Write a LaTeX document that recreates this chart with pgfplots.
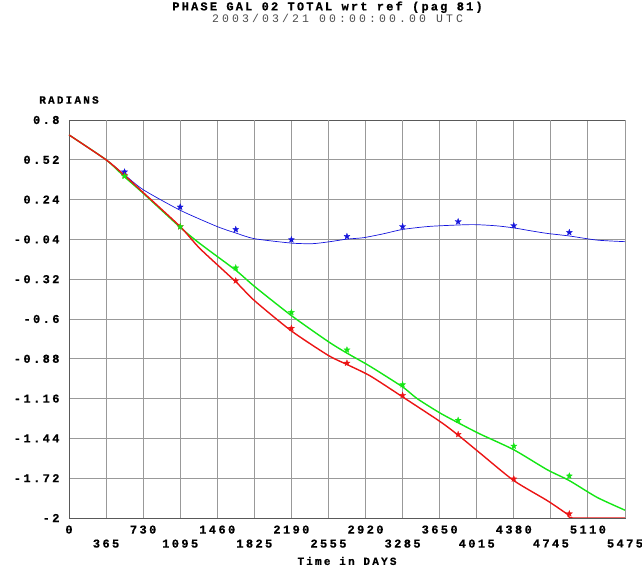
\documentclass[border=0pt]{standalone}
\usepackage{pgfplots}
\pgfplotsset{compat=1.18}
\usepackage{fontspec}
\setmainfont{Liberation Mono}
\newfontfamily\cf{Liberation Mono}[LetterSpace=20, BoldFeatures={FakeBold=0.6}]
\newfontfamily\tf{Liberation Mono}[LetterSpace=18, BoldFeatures={FakeBold=0.8}]
\newfontfamily\subf{Liberation Mono}[LetterSpace=27]
\pgfdeclareplotmark{fstar}{%
  \pgfpathmoveto{\pgfpointpolar{90}{\pgfplotmarksize}}%
  \pgfpathlineto{\pgfpointpolar{126}{0.42\pgfplotmarksize}}%
  \pgfpathlineto{\pgfpointpolar{162}{\pgfplotmarksize}}%
  \pgfpathlineto{\pgfpointpolar{198}{0.42\pgfplotmarksize}}%
  \pgfpathlineto{\pgfpointpolar{234}{\pgfplotmarksize}}%
  \pgfpathlineto{\pgfpointpolar{270}{0.42\pgfplotmarksize}}%
  \pgfpathlineto{\pgfpointpolar{306}{\pgfplotmarksize}}%
  \pgfpathlineto{\pgfpointpolar{342}{0.42\pgfplotmarksize}}%
  \pgfpathlineto{\pgfpointpolar{18}{\pgfplotmarksize}}%
  \pgfpathlineto{\pgfpointpolar{54}{0.42\pgfplotmarksize}}%
  \pgfpathclose\pgfusepathqfillstroke}
\definecolor{pblue}{RGB}{20,20,220}
\definecolor{pgreen}{RGB}{20,230,20}
\definecolor{pred}{RGB}{235,20,20}
\begin{document}
\begin{tikzpicture}[x=1pt,y=1pt]
\useasboundingbox (-69,-51) rectangle (573,518);
\begin{axis}[
  at={(0,0)}, anchor=south west,
  width=556pt, height=398pt, scale only axis,
  xmin=0, xmax=5475, ymin=-2, ymax=0.8,
  xtick={0,730,1460,2190,2920,3650,4380,5110},
  xticklabels={0,730,1460,2190,2920,3650,4380,5110},
  extra x ticks={365,1095,1825,2555,3285,4015,4745,5475},
  extra x tick labels={365,1095,1825,2555,3285,4015,4745,5475},
  extra x tick style={grid=major, xticklabel style={yshift=-14pt}},
  ytick={-2,-1.72,-1.44,-1.16,-0.88,-0.6,-0.32,-0.04,0.24,0.52,0.8},
  yticklabels={-2,-1.72,-1.44,-1.16,-0.88,-0.6,-0.32,-0.04,0.24,0.52,0.8},
  grid=major,
  major grid style={draw=black!40, line width=0.9pt},
  axis line style={draw=black!65, line width=0.9pt},
  major tick length=0pt,
  tick label style={font=\cf\bfseries\fontsize{12}{13}\selectfont},
  xticklabel style={anchor=north, yshift=-4pt},
  yticklabel style={anchor=east, xshift=-6pt},
  xlabel={Time in DAYS},
  xlabel style={font=\cf\bfseries\fontsize{11}{12}\selectfont, at={(axis description cs:0.5,0)}, anchor=center, yshift=-43pt},
  ylabel={RADIANS},
  ylabel style={font=\cf\bfseries\fontsize{11}{12}\selectfont, rotate=-90, at={(axis description cs:0,1)}, anchor=center, yshift=20pt},
  title={{\tf\bfseries\fontsize{12}{12}\selectfont PHASE GAL 02 TOTAL wrt ref (pag 81)}\\{\hspace*{20pt}\subf\color{black!70}2003/03/21 00:00:00.00 UTC}},
  title style={font=\fontsize{11.5}{12}\selectfont, align=center, at={(axis description cs:0.465,1)}, anchor=center, yshift=102pt},
]
% blue line
\addplot[pblue, line width=0.7pt, smooth, tension=0.4] coordinates {
(0,0.695)(365,0.52)(547,0.415)(730,0.31)(1095,0.165)(1460,0.05)(1642,0.005)(1825,-0.035)(2190,-0.066)(2400,-0.07)(2570,-0.056)(2737,-0.038)(2900,-0.028)(3100,0.0)(3285,0.03)(3560,0.052)(3958,0.064)(4200,0.056)(4380,0.041)(4550,0.02)(4710,0.002)(4927,-0.016)(5200,-0.045)(5475,-0.056)};
% green line
\addplot[pgreen, line width=1.4pt, smooth, tension=0.4] coordinates {
(0,0.695)(365,0.52)(547,0.40)(730,0.285)(1095,0.045)(1290,-0.07)(1642,-0.257)(1825,-0.37)(2190,-0.576)(2555,-0.76)(2737,-0.84)(2965,-0.933)(3285,-1.078)(3428,-1.16)(3650,-1.26)(3832,-1.33)(4050,-1.41)(4380,-1.52)(4708,-1.66)(4927,-1.737)(5200,-1.855)(5475,-1.945)};
% red line
\addplot[pred, line width=1.4pt, smooth, tension=0.4] coordinates {
(0,0.695)(365,0.52)(547,0.41)(730,0.29)(1095,0.05)(1290,-0.105)(1642,-0.338)(1825,-0.47)(2190,-0.684)(2555,-0.857)(2737,-0.92)(2965,-1.0)(3285,-1.148)(3657,-1.323)(3832,-1.417)(4050,-1.545)(4380,-1.737)(4708,-1.877)(4913,-1.976)(4960,-2.0)(5475,-2.0)};
% stars
\addplot[only marks, mark=fstar, mark size=3.2pt, pblue, mark options={line width=0.3pt}] coordinates {
(547,0.435)(1095,0.188)(1642,0.03)(2190,-0.042)(2737,-0.019)(3285,0.05)(3832,0.085)(4380,0.057)(4927,0.009)};
\addplot[only marks, mark=fstar, mark size=3.2pt, pred, mark options={line width=0.3pt}] coordinates {
(547,0.41)(1095,0.05)(1642,-0.331)(2190,-0.665)(2737,-0.91)(3285,-1.137)(3832,-1.412)(4380,-1.725)(4927,-1.97)};
\addplot[only marks, mark=fstar, mark size=3.2pt, pgreen, mark options={line width=0.3pt}] coordinates {
(547,0.405)(1095,0.05)(1642,-0.24)(2190,-0.553)(2737,-0.817)(3285,-1.062)(3832,-1.312)(4380,-1.494)(4927,-1.704)};
\end{axis}
\end{tikzpicture}
\end{document}
